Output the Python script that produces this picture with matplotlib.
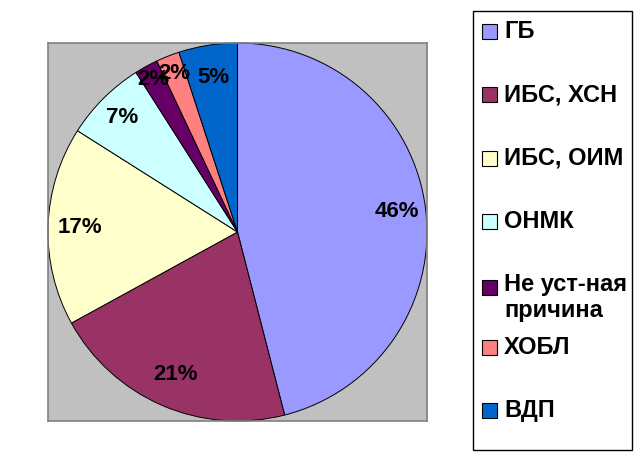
import matplotlib
matplotlib.use("Agg")
import matplotlib.pyplot as plt
from matplotlib.patches import Rectangle
import numpy as np

plt.rcParams['font.family'] = ['Liberation Sans', 'DejaVu Sans']

categories = ["ГБ", "ИБС, ХСН", "ИБС, ОИМ", "ОНМК", "Не уст-ная\nпричина", "ХОБЛ", "ВДП"]
values = [46, 21, 17, 7, 2, 2, 5]
colors = ["#9999FF", "#993366", "#FFFFCC", "#CCFFFF", "#660066", "#FF8080", "#0066CC"]
label_radius = [0.85, 0.82, 0.83, 0.86, 0.92, 0.90, 0.83]

W, H = 643, 465
fig = plt.figure(figsize=(W / 100, H / 100), dpi=100)
fig.patch.set_facecolor("white")

# plot area (pixel box 48..427 x 43..421)
x0, y0, x1, y1 = 48, 43, 427, 421
ax = fig.add_axes([x0 / W, 1 - y1 / H, (x1 - x0) / W, (y1 - y0) / H])

wedges, _ = ax.pie(values, colors=colors, startangle=90, counterclock=False,
                   radius=1.0, center=(0, 0), frame=True,
                   wedgeprops=dict(edgecolor="black", linewidth=0.7))
ax.set_facecolor("#C0C0C0")
for s in ax.spines.values():
    s.set_visible(True)
    s.set_color("#808080")
    s.set_linewidth(1.2)
ax.set_xticks([])
ax.set_yticks([])
ax.set_xlim(-1.0, 1.0)
ax.set_ylim(-1.0, 1.0)
ax.set_aspect("auto")

total = sum(values)
for w, v, r in zip(wedges, values, label_radius):
    ang = np.deg2rad((w.theta1 + w.theta2) / 2)
    ax.text(r * np.cos(ang), r * np.sin(ang), f"{round(100 * v / total)}%",
            ha="center", va="center", fontsize=16, fontweight="bold", color="black")

# legend box
lx0, ly0, lx1, ly1 = 473, 11, 632, 450
fig.patches.append(Rectangle((lx0 / W, 1 - ly1 / H), (lx1 - lx0) / W, (ly1 - ly0) / H,
                             transform=fig.transFigure, facecolor="white",
                             edgecolor="black", linewidth=1.0, zorder=1))
first_y, step, line_h = 32, 63, 26
for i, (lab, c) in enumerate(zip(categories, colors)):
    yc = first_y + i * step
    lines = lab.split("\n")
    my = yc + (3 if len(lines) > 1 else 0)
    fig.patches.append(Rectangle((481.5 / W, 1 - (my + 7.5) / H), 15 / W, 15 / H,
                                 transform=fig.transFigure, facecolor=c,
                                 edgecolor="black", linewidth=0.8, zorder=2))
    for j, line in enumerate(lines):
        fig.text(504 / W, 1 - (yc + j * line_h) / H, line, ha="left", va="center",
                 fontsize=17, fontweight="bold", color="black", zorder=3)

fig.savefig("out.png", dpi=100)
